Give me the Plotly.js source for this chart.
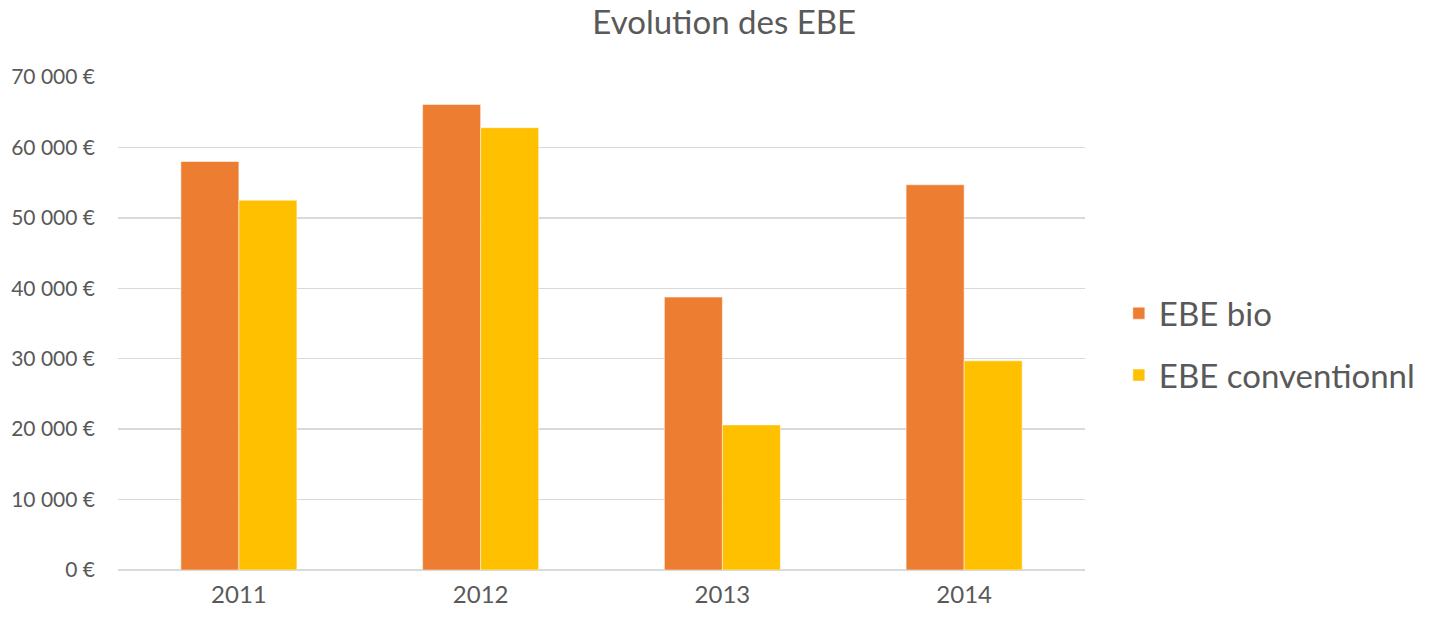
<!DOCTYPE html>
<html>
<head>
<meta charset="utf-8">
<script src="https://cdn.plot.ly/plotly-3.0.1.min.js"></script>
<style>html,body{margin:0;padding:0;background:#fff;}#chart{width:1437px;height:620px;}</style>
</head>
<body>
<div id="chart"></div>
<script>
const years = ["2011", "2012", "2013", "2014"];
const ebeBio = [58000, 66100, 38750, 54700];
const ebeConv = [52500, 62800, 20600, 29700];
const seriesNames = ["EBE bio", "EBE conventionnl"];
const tickValues = [0, 10000, 20000, 30000, 40000, 50000, 60000, 70000];
const tickLabels = ["0 €", "10 000 €", "20 000 €", "30 000 €", "40 000 €", "50 000 €", "60 000 €", "70 000 €"];

const font = "Lato, Open Sans, sans-serif";
const traces = [
  {type: "bar", name: seriesNames[0], legendgroup: "a", x: years, y: ebeBio,
   marker: {color: "#ED7D31", line: {color: "rgba(255,255,255,0.5)", width: 1}}},
  {type: "bar", name: seriesNames[1], legendgroup: "b", x: years, y: ebeConv,
   marker: {color: "#FFC000", line: {color: "rgba(255,255,255,0.5)", width: 1}}}
];
const layout = {
  width: 1437, height: 620,
  margin: {l: 118, r: 352, t: 77, b: 50},
  paper_bgcolor: "#fff", plot_bgcolor: "#fff",
  title: {text: "Evolution des EBE", x: 0.504, xref: "container", xanchor: "center",
          y: 0.963, yref: "container", yanchor: "middle",
          font: {family: font, size: 33, color: "#595959"}},
  barmode: "group", bargap: 0.52, bargroupgap: 0,
  xaxis: {type: "category", tickfont: {family: font, size: 24, color: "#595959"},
          showline: false, ticks: "", ticklen: 0, ticklabelstandoff: 8},
  yaxis: {range: [0, 70000], tickvals: tickValues, ticktext: tickLabels,
          tickfont: {family: font, size: 21, color: "#595959"},
          gridcolor: "#d9d9d9", gridwidth: 1.5, zeroline: true, zerolinecolor: "#d9d9d9",
          zerolinewidth: 1.5, ticks: "", ticklabelstandoff: 22, fixedrange: true},
  showlegend: true,
  legend: {x: 1.035, xanchor: "left", y: 0.458, yanchor: "middle",
           font: {family: font, size: 33, color: "#595959"}, tracegroupgap: 16, itemwidth: 30},
};
Plotly.newPlot("chart", traces, layout, {displayModeBar: false, staticPlot: true});
</script>
</body>
</html>
